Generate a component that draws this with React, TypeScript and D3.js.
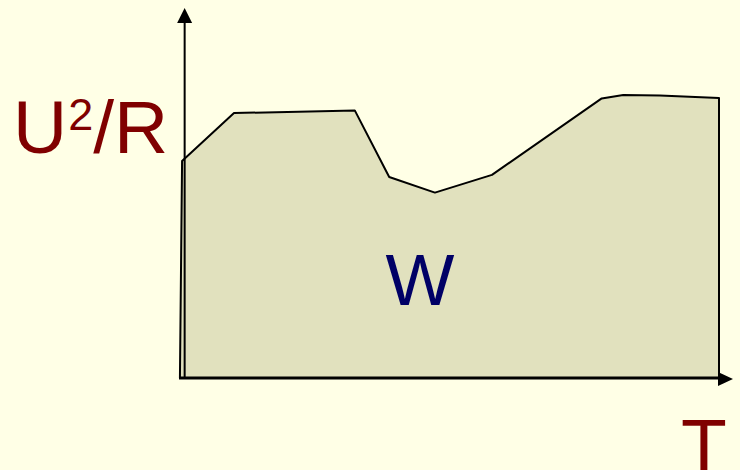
import React from "react";
import * as d3 from "d3";

const times = [-0.2, 0.2, 9.85, 32.3, 38.7, 47.2, 57.8, 78.2, 82.2, 89.0, 100, 100];
const power = [0, 72.3, 88.3, 89.2, 67, 61.8, 67.7, 93.2, 94.3, 94.2, 93.3, 0];
const labelY = "U";
const labelSup = "2";
const labelYRest = "/R";
const labelX = "T";
const labelArea = "W";

const W = 740;
const H = 470;

export default function App() {
  const x = d3.scaleLinear().domain([0, 100]).range([181, 719]);
  const y = d3.scaleLinear().domain([0, 100]).range([378, 78]);
  const pts: [number, number][] = times.map((t, i) => [t, power[i]]);
  const line = d3
    .line<[number, number]>()
    .x((d) => x(d[0]))
    .y((d) => y(d[1]));
  const d = line(pts) + "Z";
  const x0 = x(0.4);
  const y0 = y(0);
  return (
    <svg
      width={W}
      height={H}
      style={{ position: "absolute", left: 0, top: 0, background: "#FFFFE6" }}
      fontFamily="'Liberation Sans', Arial, sans-serif"
    >
      <rect x={0} y={0} width={W} height={H} fill="#FFFFE6" />
      <path d={d} fill="#E1E1BE" stroke="#000" strokeWidth={2} strokeLinejoin="round" />
      {/* y axis */}
      <line x1={x0 + 1.5} y1={y0} x2={x0 + 1.5} y2={22} stroke="#000" strokeWidth={2} />
      <polygon points={`${x0 + 1.5},8 ${x0 - 6},23 ${x0 + 9},23`} fill="#000" />
      {/* x axis */}
      <line x1={179} y1={y0} x2={720} y2={y0} stroke="#000" strokeWidth={3} />
      <polygon points={`733,${y0 + 1} 718,${y0 - 6} 718,${y0 + 8}`} fill="#000" />
      <text x={13} y={153} fontSize={75} fill="#800000">
        {labelY}
        <tspan fontSize={45} dy={-23} dx={1}>{labelSup}</tspan>
        <tspan dy={23}>{labelYRest}</tspan>
      </text>
      <text x={681} y={471} fontSize={75} fill="#800000">
        {labelX}
      </text>
      <text x={420} y={305} fontSize={73} fill="#000066" textAnchor="middle">
        {labelArea}
      </text>
    </svg>
  );
}
